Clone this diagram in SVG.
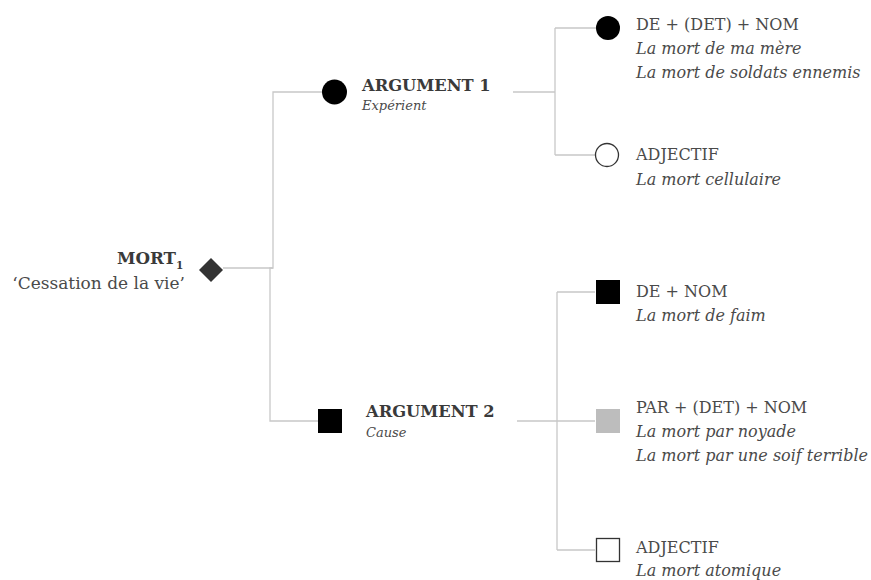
<svg xmlns="http://www.w3.org/2000/svg" width="871" height="580" viewBox="0 0 871 580">
<style>
.ln{stroke:#c8c8c8;stroke-width:1.3;fill:none}
text{font-family:"DejaVu Serif","Liberation Serif",serif;fill:#4a4a4a}
.h{font-size:16px}
.r{font-size:17px}
.b{font-size:16.3px;font-weight:bold;fill:#3a3a3a}
.i{font-size:16px;font-style:italic}
.s{font-size:13px;font-style:italic}
</style>
<rect width="871" height="580" fill="#fff"/>
<g id="connectors">
<path class="ln" d="M223 268H273V92H322"/>
<path class="ln" d="M273 268H270V421H318"/>
<path class="ln" d="M513 92H555M555 28V155M555 28H596M555 155H595"/>
<path class="ln" d="M517 421H557M557 292V550M557 292H595M557 421H595M557 550H595"/>
</g>
<g id="root">
<path d="M211 258L223 270L211 282L199 270Z" fill="#333"/>
<text class="b" x="176" y="264" text-anchor="end" style="font-size:16.7px">MORT</text>
<text class="b" x="176" y="269" style="font-size:10.5px">1</text>
<text class="r" x="185" y="289" text-anchor="end">‘Cessation de la vie’</text>
</g>
<g id="arg1">
<circle cx="334.5" cy="92" r="12.5" fill="#000"/>
<text class="b" x="362" y="91">ARGUMENT 1</text>
<text class="s" x="362" y="110">Expérient</text>
</g>
<g id="arg2">
<rect x="318" y="409" width="24" height="24" fill="#000"/>
<text class="b" x="366" y="417">ARGUMENT 2</text>
<text class="s" x="366" y="437">Cause</text>
</g>
<g id="a1-de">
<circle cx="608" cy="28" r="12" fill="#000"/>
<text class="h" x="636" y="30">DE + (DET) + NOM</text>
<text class="i" x="636" y="54">La mort de ma mère</text>
<text class="i" x="636" y="78">La mort de soldats ennemis</text>
</g>
<g id="a1-adj">
<circle cx="607" cy="155" r="11.5" fill="#fff" stroke="#333" stroke-width="1.3"/>
<text class="h" x="636" y="160">ADJECTIF</text>
<text class="i" x="636" y="185">La mort cellulaire</text>
</g>
<g id="a2-de">
<rect x="596" y="280" width="24" height="24" fill="#000"/>
<text class="h" x="636" y="297">DE + NOM</text>
<text class="i" x="636" y="321">La mort de faim</text>
</g>
<g id="a2-par">
<rect x="596" y="409" width="24" height="24" fill="#bdbdbd"/>
<text class="h" x="636" y="413">PAR + (DET) + NOM</text>
<text class="i" x="636" y="437">La mort par noyade</text>
<text class="i" x="636" y="461">La mort par une soif terrible</text>
</g>
<g id="a2-adj">
<rect x="596.5" y="538.5" width="23" height="23" fill="#fff" stroke="#333" stroke-width="1.3"/>
<text class="h" x="636" y="553">ADJECTIF</text>
<text class="i" x="636" y="576">La mort atomique</text>
</g>
</svg>
